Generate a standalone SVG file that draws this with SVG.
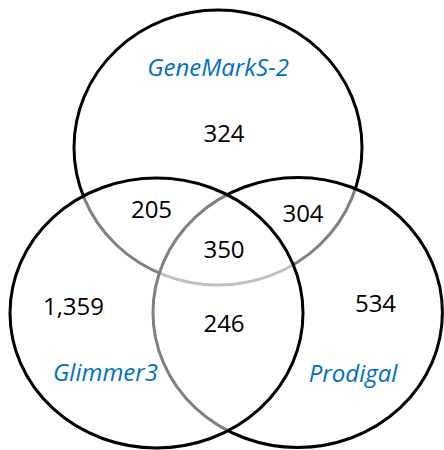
<svg xmlns="http://www.w3.org/2000/svg" width="444" height="450" viewBox="0 0 444 450">
  <style>
    .set { fill: #ffffff; fill-opacity: 0.5; stroke: #000000; stroke-width: 3; }
    .num { font-family: "Open Sans", "Liberation Sans", sans-serif; font-size: 24px; fill: #000000; text-anchor: middle; }
    .lbl { font-family: "Open Sans", "Liberation Sans", sans-serif; font-size: 24px; font-style: italic; fill: #0070C0; text-anchor: middle; }
  </style>
  <rect x="0" y="0" width="444" height="450" fill="#ffffff"/>
  <g id="sets">
    <g id="genemarks2">
      <ellipse class="set" cx="218" cy="147.5" rx="144" ry="137.5"/>
    </g>
    <g id="prodigal">
      <ellipse class="set" cx="297.7" cy="312.5" rx="144.7" ry="135"/>
    </g>
    <g id="glimmer3">
      <ellipse class="set" cx="156.5" cy="313" rx="146.5" ry="135"/>
    </g>
  </g>
  <g id="labels">
    <text class="lbl" x="218" y="76">GeneMarkS-2</text>
    <text class="lbl" x="105.5" y="381">Glimmer3</text>
    <text class="lbl" x="353" y="382">Prodigal</text>
  </g>
  <g id="counts">
    <text class="num" x="224" y="142">324</text>
    <text class="num" x="151.5" y="218">205</text>
    <text class="num" x="303" y="222">304</text>
    <text class="num" x="224" y="258">350</text>
    <text class="num" x="73.5" y="315">1,359</text>
    <text class="num" x="224" y="332">246</text>
    <text class="num" x="375.5" y="312">534</text>
  </g>
</svg>
